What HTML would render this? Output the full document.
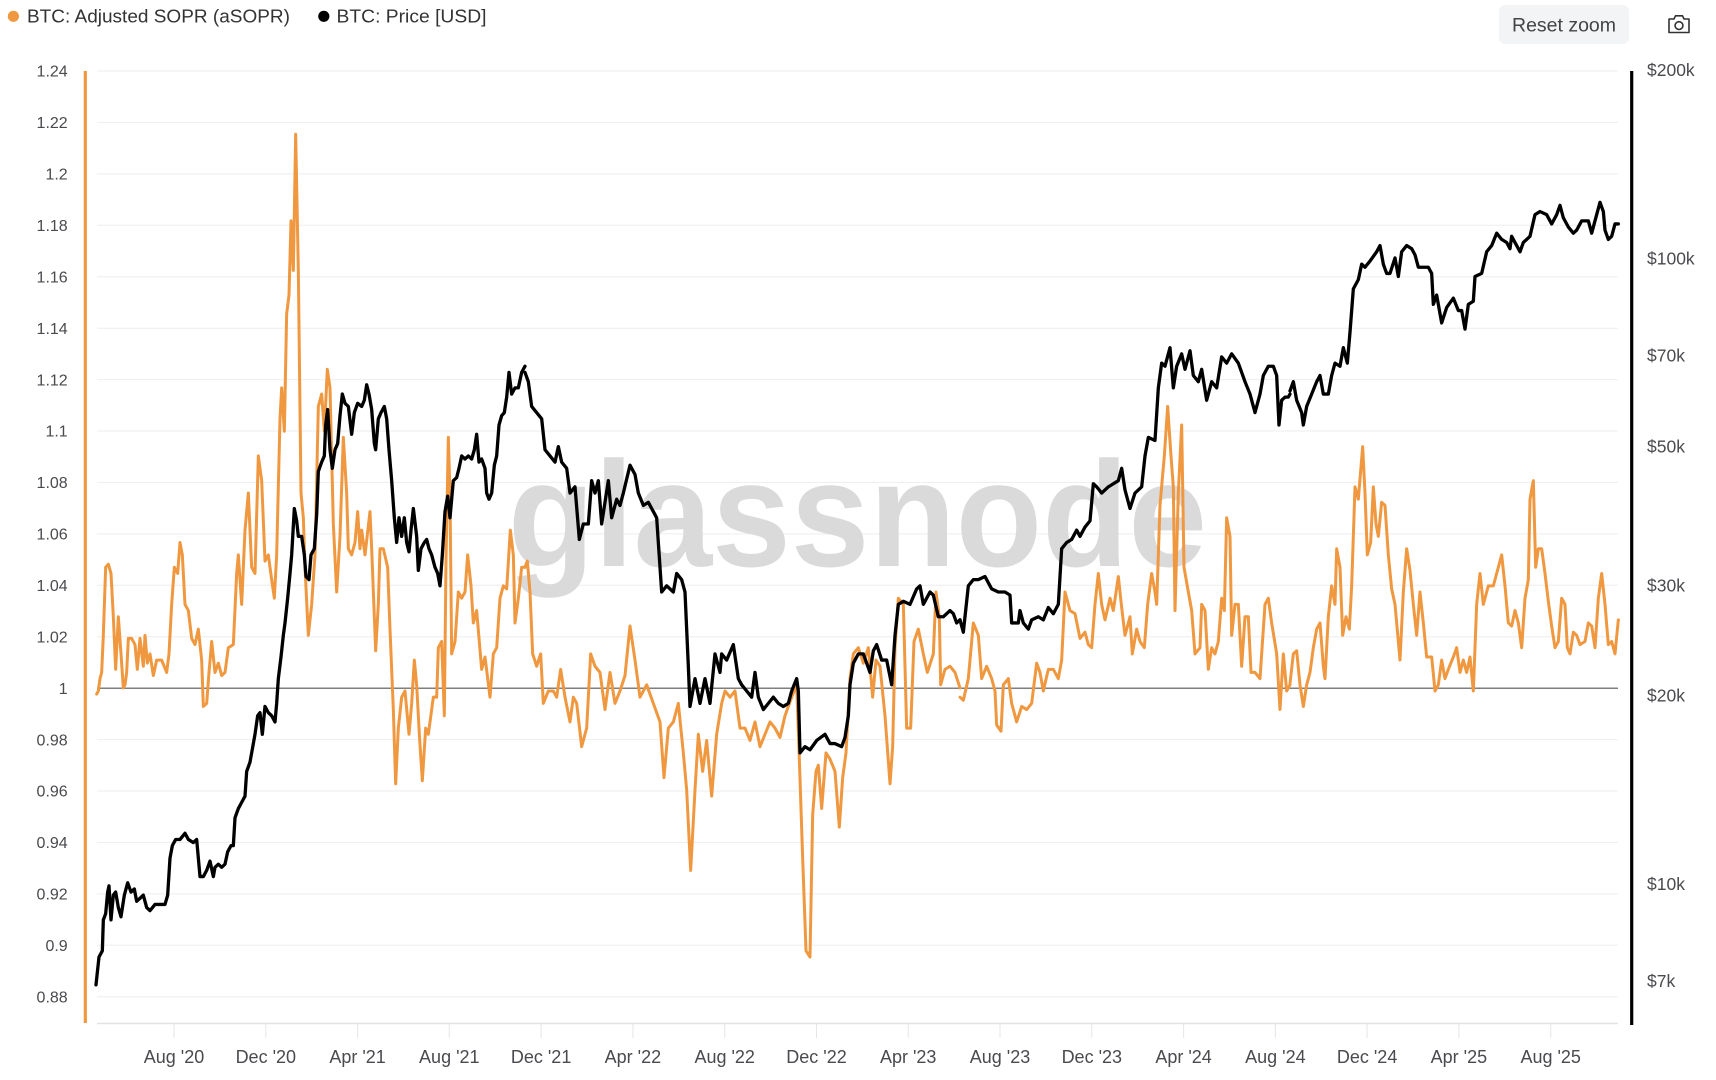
<!DOCTYPE html>
<html>
<head>
<meta charset="utf-8">
<style>
html,body{margin:0;padding:0;background:#fff;}
svg{display:block;}
text{font-family:"Liberation Sans",Arial,sans-serif;}
</style>
</head>
<body>
<svg width="1716" height="1080" viewBox="0 0 1716 1080" xmlns="http://www.w3.org/2000/svg">
<rect x="0" y="0" width="1716" height="1080" fill="#fff"/>

<!-- Legend -->
<circle cx="13.4" cy="16.3" r="5.6" fill="#f0983f"/>
<text x="27" y="22.7" font-size="18" fill="#333" textLength="263" lengthAdjust="spacingAndGlyphs">BTC: Adjusted SOPR (aSOPR)</text>
<circle cx="323.8" cy="16.3" r="5.6" fill="#000"/>
<text x="336.5" y="22.7" font-size="18" fill="#333" textLength="150" lengthAdjust="spacingAndGlyphs">BTC: Price [USD]</text>

<!-- Reset zoom button -->
<rect x="1499" y="5" width="130" height="39" rx="6" fill="#f3f4f6"/>
<text x="1564" y="31.5" font-size="19" fill="#444" text-anchor="middle" textLength="104" lengthAdjust="spacingAndGlyphs">Reset zoom</text>

<!-- Camera icon -->
<g fill="none" stroke="#333" stroke-width="1.6" stroke-linejoin="round">
<path d="M1669,19 L1674,19 L1675.5,15.8 L1682.5,15.8 L1684,19 L1689,19 L1689,32.5 L1669,32.5 Z"/>
<circle cx="1679" cy="25.6" r="3.9"/>
</g>

<!-- Gridlines -->
<g stroke="#eeeeee" stroke-width="1">
<line x1="97" x2="1618" y1="71" y2="71"/>
<line x1="97" x2="1618" y1="122.4" y2="122.4"/>
<line x1="97" x2="1618" y1="173.9" y2="173.9"/>
<line x1="97" x2="1618" y1="225.3" y2="225.3"/>
<line x1="97" x2="1618" y1="276.7" y2="276.7"/>
<line x1="97" x2="1618" y1="328.2" y2="328.2"/>
<line x1="97" x2="1618" y1="379.6" y2="379.6"/>
<line x1="97" x2="1618" y1="431" y2="431"/>
<line x1="97" x2="1618" y1="482.4" y2="482.4"/>
<line x1="97" x2="1618" y1="533.9" y2="533.9"/>
<line x1="97" x2="1618" y1="585.3" y2="585.3"/>
<line x1="97" x2="1618" y1="636.7" y2="636.7"/>
<line x1="97" x2="1618" y1="739.6" y2="739.6"/>
<line x1="97" x2="1618" y1="791" y2="791"/>
<line x1="97" x2="1618" y1="842.5" y2="842.5"/>
<line x1="97" x2="1618" y1="893.9" y2="893.9"/>
<line x1="97" x2="1618" y1="945.3" y2="945.3"/>
<line x1="97" x2="1618" y1="996.7" y2="996.7"/>
</g>

<!-- Watermark -->
<text x="508" y="566" font-size="150" font-weight="bold" fill="#dadada" textLength="699" lengthAdjust="spacingAndGlyphs">glassnode</text>

<!-- x axis -->
<line x1="97" x2="1618" y1="1023.5" y2="1023.5" stroke="#e2e2e2" stroke-width="1.6"/>
<g stroke="#e6e6e6" stroke-width="1">
<line x1="174" x2="174" y1="1024" y2="1038"/>
<line x1="265.8" x2="265.8" y1="1024" y2="1038"/>
<line x1="357.6" x2="357.6" y1="1024" y2="1038"/>
<line x1="449.3" x2="449.3" y1="1024" y2="1038"/>
<line x1="541.1" x2="541.1" y1="1024" y2="1038"/>
<line x1="632.9" x2="632.9" y1="1024" y2="1038"/>
<line x1="724.7" x2="724.7" y1="1024" y2="1038"/>
<line x1="816.5" x2="816.5" y1="1024" y2="1038"/>
<line x1="908.2" x2="908.2" y1="1024" y2="1038"/>
<line x1="1000" x2="1000" y1="1024" y2="1038"/>
<line x1="1091.8" x2="1091.8" y1="1024" y2="1038"/>
<line x1="1183.6" x2="1183.6" y1="1024" y2="1038"/>
<line x1="1275.4" x2="1275.4" y1="1024" y2="1038"/>
<line x1="1367.1" x2="1367.1" y1="1024" y2="1038"/>
<line x1="1458.9" x2="1458.9" y1="1024" y2="1038"/>
<line x1="1550.7" x2="1550.7" y1="1024" y2="1038"/>
</g>
<g font-size="18" fill="#4a4a4f" text-anchor="middle">
<text x="174" y="1063">Aug '20</text>
<text x="265.8" y="1063">Dec '20</text>
<text x="357.6" y="1063">Apr '21</text>
<text x="449.3" y="1063">Aug '21</text>
<text x="541.1" y="1063">Dec '21</text>
<text x="632.9" y="1063">Apr '22</text>
<text x="724.7" y="1063">Aug '22</text>
<text x="816.5" y="1063">Dec '22</text>
<text x="908.2" y="1063">Apr '23</text>
<text x="1000" y="1063">Aug '23</text>
<text x="1091.8" y="1063">Dec '23</text>
<text x="1183.6" y="1063">Apr '24</text>
<text x="1275.4" y="1063">Aug '24</text>
<text x="1367.1" y="1063">Dec '24</text>
<text x="1458.9" y="1063">Apr '25</text>
<text x="1550.7" y="1063">Aug '25</text>
</g>

<!-- Left y labels -->
<g font-size="16" fill="#4a4a4f" text-anchor="end">
<text x="67.7" y="76.7">1.24</text>
<text x="67.7" y="128.1">1.22</text>
<text x="67.7" y="179.6">1.2</text>
<text x="67.7" y="231">1.18</text>
<text x="67.7" y="282.4">1.16</text>
<text x="67.7" y="333.9">1.14</text>
<text x="67.7" y="385.3">1.12</text>
<text x="67.7" y="436.7">1.1</text>
<text x="67.7" y="488.1">1.08</text>
<text x="67.7" y="539.6">1.06</text>
<text x="67.7" y="591">1.04</text>
<text x="67.7" y="642.4">1.02</text>
<text x="67.7" y="693.9">1</text>
<text x="67.7" y="745.3">0.98</text>
<text x="67.7" y="796.7">0.96</text>
<text x="67.7" y="848.2">0.94</text>
<text x="67.7" y="899.6">0.92</text>
<text x="67.7" y="951">0.9</text>
<text x="67.7" y="1002.4">0.88</text>
</g>

<!-- Right y labels -->
<g font-size="17.5" fill="#4a4a4f">
<text x="1647" y="76">$200k</text>
<text x="1647" y="264.4">$100k</text>
<text x="1647" y="361.3">$70k</text>
<text x="1647" y="452.7">$50k</text>
<text x="1647" y="591.5">$30k</text>
<text x="1647" y="701.7">$20k</text>
<text x="1647" y="890">$10k</text>
<text x="1647" y="987">$7k</text>
</g>

<!-- Axis lines -->
<line x1="85.3" x2="85.3" y1="71" y2="1023" stroke="#f0983f" stroke-width="3.2"/>
<line x1="1631.7" x2="1631.7" y1="71" y2="1025" stroke="#000" stroke-width="3.2"/>

<!-- 1.0 reference line -->
<line x1="97" x2="1618" y1="688.2" y2="688.2" stroke="#555" stroke-width="1.2"/>

<!-- aSOPR series (orange) -->
<g fill="none" stroke="#f0983f" stroke-width="3" stroke-linejoin="round" stroke-linecap="round">
<g transform="translate(85,60) scale(0.333333,0.618622)">
<polyline vector-effect="non-scaling-stroke" points="35,1025 40,1020 45,1000 50,990 55,930 62,820 70,815 78,830 85,900 92,985 100,900 108,960 115,1015 120,1010 125,990 130,935 140,935 150,945 157,985 165,935 175,980 180,930 187,975 195,960 205,995 215,970 230,970 245,990 252,960 260,880 268,820 278,830 285,780 292,800 300,880 310,890 320,935 330,945 340,920 350,970 355,1045 365,1040 372,990 380,940 390,990 400,975 410,995 420,990 430,950 445,945 455,830 460,800 470,880 480,760 490,700 500,820 510,830 520,640 530,680 540,810 550,800 560,840 568,870 575,800 585,580 590,530 598,600 605,410 612,380 618,260 625,340 632,120 640,340 648,700 655,740 660,820 670,930 680,880 690,800 700,560 710,540 718,600 727,500 735,530 745,750 755,860 765,770 775,610 785,700 790,790 800,800 810,780 818,730 825,790 830,760 840,800 855,730 860,790 872,955 880,880 885,790 895,790 908,820 915,920 925,1050 932,1170 940,1080 950,1030 960,1020 972,1090 980,1040 988,970 995,1010 1003,1090 1012,1165 1022,1080 1030,1090 1045,1030 1055,1030 1060,950 1070,940 1078,1060 1083,810 1090,610 1095,700 1100,960 1110,940 1120,860 1130,870 1140,860 1148,800 1158,850 1165,910 1175,890 1190,985 1200,965 1215,1030 1225,960 1235,950 1245,870 1255,850 1265,855 1276,760 1285,800 1290,910 1300,870 1310,820 1320,820"/>
</g>
<g transform="translate(520,60) scale(0.333333,0.618622)">
<polyline vector-effect="non-scaling-stroke" points="15,820 22,810 30,860 38,960 50,980 62,960 70,1040 85,1020 100,1020 110,1030 122,985 135,1030 150,1070 160,1030 170,1040 185,1110 200,1080 212,960 225,980 240,990 255,1050 270,990 285,1040 300,1020 315,995 330,915 345,970 360,1030 380,1010 400,1040 420,1070 432,1160 445,1080 460,1070 475,1040 490,1120 500,1180 512,1310 525,1180 535,1090 548,1150 560,1100 575,1190 590,1090 605,1040 615,1020 630,1030 645,1020 660,1080 675,1080 690,1100 705,1070 720,1110 735,1090 750,1070 765,1080 780,1095 795,1060 815,1030 830,1010 838,1130 848,1290 858,1440 870,1450 878,1220 888,1150 895,1140 905,1210 918,1120 930,1130 945,1150 958,1240 968,1160 978,1120 990,1000 1000,960 1015,950 1030,975 1045,950 1058,1030 1068,970 1080,980 1095,1060 1110,1170 1118,1110 1125,950 1135,870 1150,880 1160,1080 1172,1080 1182,940 1195,920 1210,960 1222,990 1240,960 1248,860 1258,900 1262,1010 1275,985 1290,980 1305,990 1320,1015"/>
</g>
<g transform="translate(955,60) scale(0.333333,0.618622)">
<polyline vector-effect="non-scaling-stroke" points="15,1030 25,1035 40,1000 55,910 70,930 80,1000 95,980 110,1000 120,1020 125,1075 138,1085 145,1010 160,1000 170,1040 185,1070 200,1045 215,1050 230,1040 245,975 255,990 265,1020 280,985 295,985 310,1000 320,970 330,860 345,890 360,895 375,935 390,925 400,945 410,950 420,880 430,830 440,880 450,905 465,870 475,890 490,835 500,885 510,930 525,900 532,960 545,920 555,940 568,950 578,880 590,830 600,860 605,880 615,720 628,640 638,560 648,640 655,690 660,890 670,700 680,590 687,820 700,860 710,890 720,960 735,950 740,880 750,890 760,985 770,950 780,960 790,940 800,870 808,890 815,740 825,770 830,930 840,880 850,880 860,980 870,900 880,900 888,990 900,990 915,1000 930,880 940,870 950,910 965,960 975,1050 985,960 995,1020 1005,1010"/>
</g>
<g transform="translate(1290,60) scale(0.333333,0.618622)">
<polyline vector-effect="non-scaling-stroke" points="0,1008 10,960 20,955 30,1010 40,1045 50,1010 60,990 70,950 80,920 90,910 100,980 105,1000 115,900 125,850 135,880 140,790 150,820 158,930 168,900 178,920 185,850 195,690 205,710 218,625 225,700 232,800 242,780 250,690 258,750 265,770 275,715 285,720 295,800 305,855 315,880 330,970 340,860 350,790 360,825 370,880 380,930 390,860 400,910 410,965 425,965 435,1020 445,1010 455,970 465,1000 475,985 490,965 500,950 510,990 520,970 530,990 540,965 550,1020 560,880 570,830 580,880 595,850 610,850 625,820 635,800 645,850 655,910 665,915 675,890 685,910 695,950 705,870 715,840 720,710 730,680 737,820 745,790 755,790 765,830 775,875 785,915 795,950 805,940 815,870 825,880 832,950 840,960 850,925 860,930 870,945 885,940 895,910 905,915 915,950 925,870 935,830 945,880 955,945 965,940 975,960 985,905"/>
</g>
</g>

<!-- BTC price series (black) -->
<g fill="none" stroke="#000" stroke-width="3.3" stroke-linejoin="round" stroke-linecap="round">
<g transform="translate(85,60) scale(0.333333,0.618622)">
<polyline vector-effect="non-scaling-stroke" points="33,1495 37,1475 42,1450 52,1440 55,1390 62,1380 68,1345 72,1335 78,1390 85,1350 92,1345 100,1370 108,1385 118,1350 128,1330 138,1345 148,1340 155,1360 165,1355 175,1350 185,1370 195,1375 210,1365 225,1365 240,1365 248,1350 255,1290 262,1270 272,1260 285,1260 300,1250 310,1260 325,1265 335,1260 340,1290 345,1320 355,1320 365,1310 375,1295 385,1320 390,1305 400,1300 410,1305 420,1300 428,1280 438,1270 445,1270 450,1225 460,1210 470,1200 480,1190 485,1150 495,1135 500,1120 510,1090 518,1060 525,1055 532,1090 540,1045 550,1055 560,1060 570,1070 575,1040 580,1000 588,965 595,930 600,910 608,870 615,830 620,800 628,725 635,745 640,770 650,770 658,800 663,835 672,840 678,800 688,790 695,735 700,665 710,650 718,640 722,590 728,565 735,630 742,660 750,630 758,620 765,575 772,540 780,555 790,560 800,605 808,570 818,555 830,560 838,550 845,525 852,540 860,565 868,620 872,630 880,580 888,570 898,560 905,580 912,630 920,680 928,740 935,780 942,740 950,770 958,740 965,780 972,795 978,760 985,725 995,770 1000,825 1008,790 1018,780 1025,775 1032,790 1040,800 1050,820 1058,830 1065,850 1072,800 1080,730 1088,705 1095,740 1105,680 1115,675 1122,660 1130,640 1140,645 1150,640 1160,645 1168,630 1175,605 1182,650 1190,645 1200,660 1205,700 1212,710 1220,700 1228,655 1235,640 1242,590 1250,575 1258,570 1265,545 1272,505 1280,540 1290,530 1300,530 1310,505 1320,495"/>
</g>
<g transform="translate(520,60) scale(0.333333,0.618622)">
<polyline vector-effect="non-scaling-stroke" points="15,505 25,520 35,560 50,570 65,580 75,630 90,640 105,650 115,625 125,650 140,660 150,700 165,690 178,775 190,750 205,750 215,680 225,700 235,680 245,750 265,680 275,740 290,710 300,720 310,700 330,655 345,670 355,700 370,720 385,715 400,730 410,740 425,860 440,850 460,860 470,830 485,840 495,860 505,980 510,1045 525,1000 540,1040 555,1000 570,1040 585,960 600,990 605,960 620,970 640,945 655,1000 665,1010 680,1020 695,1030 705,990 715,1030 730,1050 745,1040 760,1030 775,1040 790,1045 805,1040 815,1020 830,1000 835,1020 840,1120 855,1110 870,1115 890,1100 915,1090 930,1105 945,1105 965,1110 975,1095 985,1060 990,1010 1000,975 1015,960 1030,960 1050,990 1060,955 1070,945 1085,970 1100,970 1115,1010 1125,930 1135,880 1150,875 1170,880 1190,855 1200,850 1210,880 1230,860 1240,865 1255,900 1270,900 1290,890 1300,895 1310,910 1320,905"/>
</g>
<g transform="translate(955,60) scale(0.333333,0.618622)">
<polyline vector-effect="non-scaling-stroke" points="15,905 25,925 40,850 55,840 70,840 90,835 110,855 130,860 150,860 165,865 170,910 190,910 195,890 205,910 220,920 230,905 250,900 265,905 280,885 295,895 310,880 320,790 335,780 350,775 365,760 375,770 390,755 405,745 415,685 425,690 440,700 460,690 475,685 490,680 500,660 510,695 525,725 540,700 560,690 570,640 580,610 600,615 610,530 620,490 630,495 645,465 655,530 665,495 680,475 690,500 705,470 715,510 730,520 740,500 755,550 770,520 785,530 800,480 815,490 830,475 850,490 870,520 885,540 900,570 915,540 925,510 940,495 955,495 965,510 972,590 980,550 990,545 1000,545 1005,540"/>
</g>
<g transform="translate(1290,60) scale(0.333333,0.618622)">
<polyline vector-effect="non-scaling-stroke" points="0,535 10,520 20,550 35,570 40,590 50,560 65,540 80,520 90,510 100,540 115,540 125,510 135,490 150,495 160,465 172,490 180,440 190,370 205,355 215,330 225,335 240,325 260,310 270,300 280,330 290,345 300,345 315,320 325,350 335,310 350,300 365,305 375,315 385,335 400,335 415,335 425,345 430,395 440,380 455,425 470,400 490,385 505,405 515,405 525,435 535,395 550,390 555,350 575,345 590,310 605,300 620,280 635,290 650,295 660,305 665,285 680,300 690,310 700,295 720,285 735,250 750,245 770,250 785,265 800,250 810,235 820,255 835,270 850,280 860,275 875,260 895,260 905,280 915,260 930,230 940,245 945,275 955,290 965,285 975,265 985,265"/>
</g>
</g>
</svg>
</body>
</html>
